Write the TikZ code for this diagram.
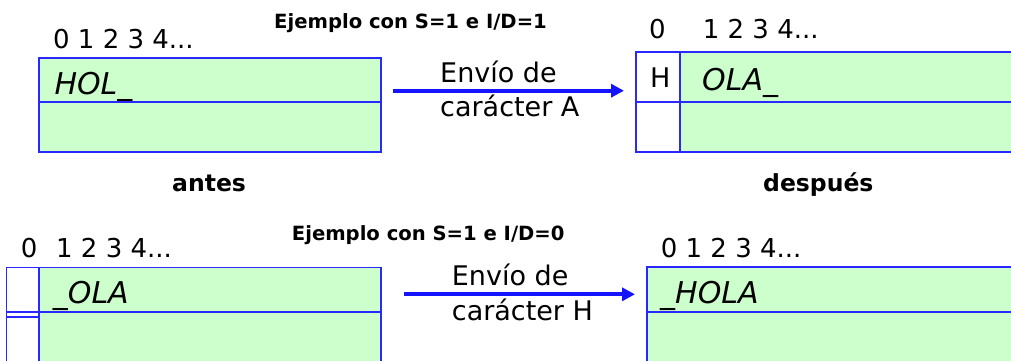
\documentclass[tikz,border=0pt]{standalone}
\usepackage{fontspec}
\setmainfont{DejaVu Sans}
\usetikzlibrary{arrows.meta}
\definecolor{cellgreen}{RGB}{204,255,204}
\definecolor{boxblue}{RGB}{40,40,255}
\definecolor{arrowblue}{RGB}{20,20,255}
\begin{document}
\begin{tikzpicture}[x=1pt,y=-1pt,
  box/.style={draw=boxblue,line width=1.7pt,fill=cellgreen},
  cellbox/.style={draw=boxblue,line width=1.7pt,fill=white},
  divline/.style={draw=boxblue,line width=1.7pt},
  arr/.style={draw=arrowblue,line width=4pt,-{Triangle[length=13pt,width=13pt]}},
  txt/.style={anchor=base west,inner sep=0pt},
  digits/.style={txt,font=\fontsize{26}{30}\selectfont},
  plain/.style={txt,font=\fontsize{27}{32}\selectfont},
  content/.style={txt,font=\fontsize{30}{36}\selectfont\itshape},
  title/.style={txt,font=\fontsize{19.6}{24}\selectfont\bfseries},
  tag/.style={txt,font=\fontsize{23.5}{28}\selectfont\bfseries}]
\useasboundingbox (0,0) rectangle (1011,360);
\begin{scope}
\clip (0,0) rectangle (1011,360);
% top left box
\draw[box] (39,58) rectangle (381,152);
\draw[divline] (39,102) -- (381,102);
% top right box
\draw[box] (680,52) rectangle (1025,152);
\draw[cellbox] (636,52) rectangle (680,152);
\draw[divline] (636,102) -- (1025,102);
% bottom left box
\draw[box] (39,267.5) rectangle (381,375);
\draw[cellbox] (6.5,267.5) rectangle (39,375);
\draw[divline] (6.5,312.3) -- (39,312.3);
\draw[divline] (6.5,317.3) -- (39,317.3);
\draw[divline] (39,311.7) -- (381,311.7);
% bottom right box
\draw[box] (646.7,267.3) rectangle (1025,375);
\draw[divline] (646.7,311.7) -- (1025,311.7);
\end{scope}
% titles
\node[title] (t1) at (274,28.3) {Ejemplo con S=1 e I/D=1};
\node[title] (t2) at (291.7,240) {Ejemplo con S=1 e I/D=0};
\node[tag] (antes) at (172,191.7) {antes};
\node[tag] (despues) at (763,191.7) {después};
% index labels
\node[digits] (i1) at (53,48.3) {0 1 2 3 4...};
\node[digits] (i2a) at (649,38.3) {0};
\node[digits] (i2b) at (702.7,38.3) {1 2 3 4...};
\node[digits] (i3a) at (20.7,257.7) {0};
\node[digits] (i3b) at (56,257.7) {1 2 3 4...};
\node[digits] (i4) at (660.7,257.3) {0 1 2 3 4...};
% contents
\node[content] (c1) at (54.3,94.3) {HOL\_};
\node[plain] (c2a) at (650,87.3) {H};
\node[content] (c2b) at (702,90) {OLA\_};
\node[content] (c3) at (52.7,303.3) {\_OLA};
\node[content] (c4) at (660,303.3) {\_HOLA};
% arrows
\coordinate (a1s) at (392.7,90.7);
\coordinate (a1e) at (624,90.7);
\draw[arr] (a1s) -- (a1e);
\node[plain] (e1a) at (440,82) {Envío de};
\node[plain] (e1b) at (440,116.7) {carácter A};
\coordinate (a2s) at (404,294.3);
\coordinate (a2e) at (635,294.3);
\draw[arr] (a2s) -- (a2e);
\node[plain] (e2a) at (451.7,285) {Envío de};
\node[plain] (e2b) at (451.7,320) {carácter H};
\end{tikzpicture}
\end{document}
